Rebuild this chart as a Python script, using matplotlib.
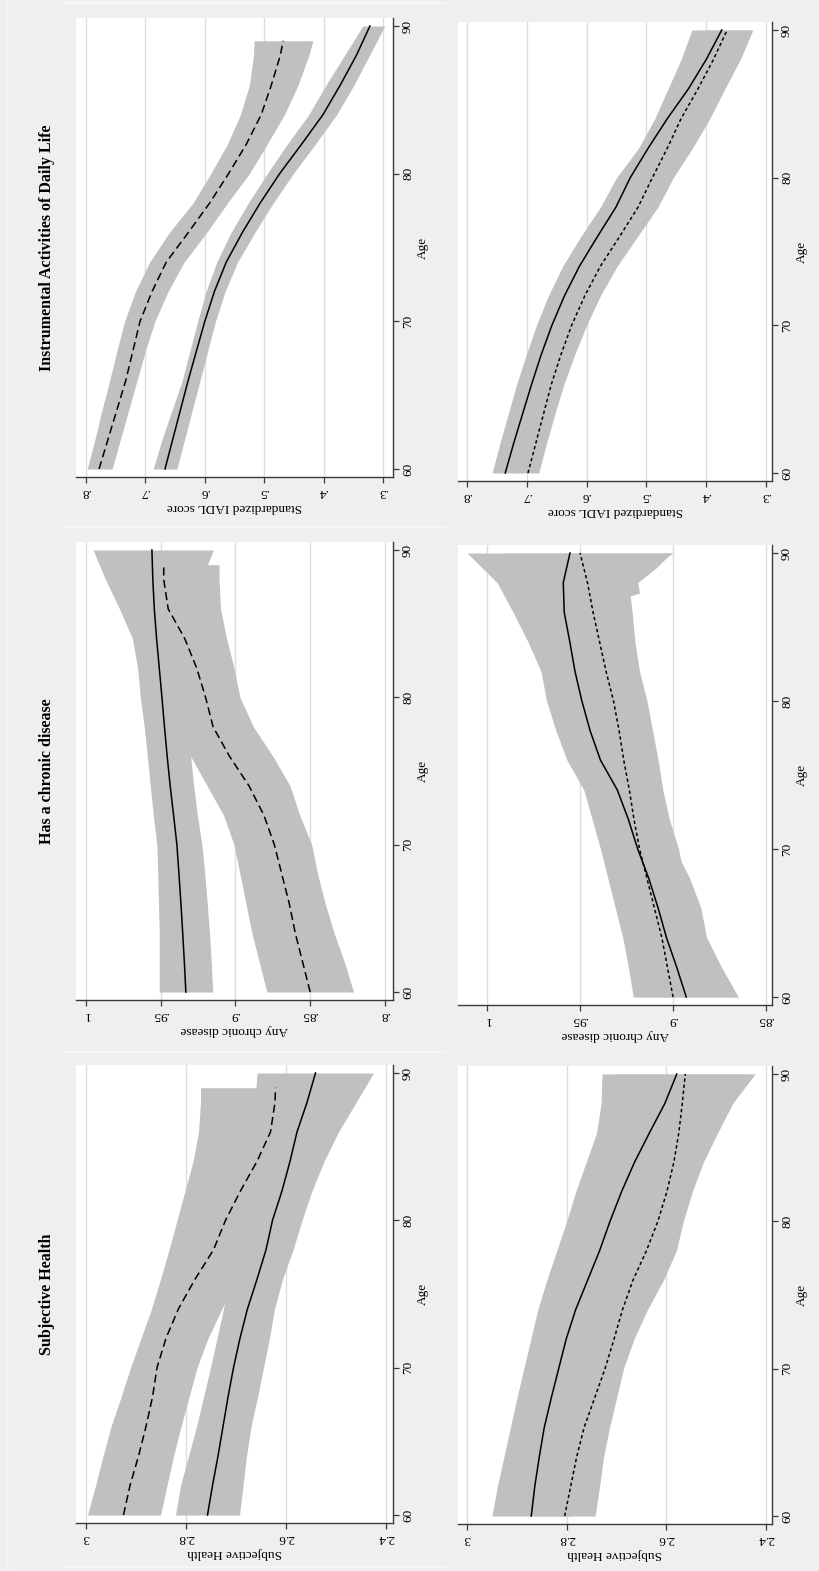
import matplotlib
matplotlib.use("Agg")
import matplotlib.pyplot as plt

plt.rcParams['font.family'] = ['Liberation Serif', 'DejaVu Serif']

# ---------------- data ----------------
ages = [60, 62, 64, 66, 68, 70, 72, 74, 76, 78, 80, 82, 84, 86, 88, 90]
ages89 = [60, 62, 64, 66, 68, 70, 72, 74, 76, 78, 80, 82, 84, 86, 88, 89]
ages_step = [60, 62, 64, 66, 68, 70, 72, 74, 76, 78, 80, 82, 84, 86, 87.1, 87.3, 88, 89, 90]

# Subjective Health, row 1 (solid / dashed)
sh1_solid = [2.757, 2.747, 2.736, 2.726, 2.716, 2.705, 2.692, 2.677, 2.658, 2.640, 2.627, 2.608, 2.592, 2.578, 2.558, 2.541]
sh1_solid_hi = [2.821, 2.811, 2.795, 2.779, 2.765, 2.751, 2.738, 2.725, 2.712, 2.697, 2.690, 2.682, 2.675, 2.668, 2.662, 2.658]
sh1_solid_lo = [2.693, 2.686, 2.679, 2.670, 2.657, 2.645, 2.633, 2.623, 2.607, 2.586, 2.568, 2.548, 2.524, 2.495, 2.460, 2.425]
sh1_dash = [2.925, 2.912, 2.895, 2.880, 2.867, 2.858, 2.840, 2.815, 2.782, 2.745, 2.721, 2.691, 2.658, 2.631, 2.622, 2.621]
sh1_dash_hi = [2.997, 2.981, 2.966, 2.950, 2.930, 2.911, 2.890, 2.869, 2.851, 2.834, 2.818, 2.802, 2.786, 2.775, 2.771, 2.771]
sh1_dash_lo = [2.851, 2.838, 2.825, 2.810, 2.794, 2.778, 2.756, 2.728, 2.698, 2.670, 2.640, 2.605, 2.560, 2.530, 2.505, 2.500]

# Subjective Health, row 2 (solid / dotted)
sh2_solid = [2.871, 2.864, 2.855, 2.845, 2.831, 2.816, 2.801, 2.782, 2.758, 2.734, 2.713, 2.690, 2.664, 2.634, 2.603, 2.579]
sh2_solid_hi = [2.950, 2.939, 2.926, 2.913, 2.900, 2.886, 2.872, 2.858, 2.840, 2.820, 2.800, 2.782, 2.761, 2.740, 2.731, 2.729]
sh2_solid_lo = [2.792, 2.789, 2.784, 2.777, 2.762, 2.746, 2.730, 2.706, 2.676, 2.648, 2.626, 2.598, 2.567, 2.528, 2.475, 2.429]
sh2_dot = [2.804, 2.792, 2.780, 2.765, 2.744, 2.723, 2.705, 2.688, 2.667, 2.640, 2.617, 2.599, 2.585, 2.575, 2.568, 2.562]
sh2_dot_hi = [2.865, 2.850, 2.834, 2.816, 2.788, 2.760, 2.745, 2.738, 2.728, 2.700, 2.668, 2.650, 2.644, 2.653, 2.669, 2.702]
sh2_dot_lo = [2.743, 2.734, 2.726, 2.714, 2.700, 2.686, 2.665, 2.638, 2.606, 2.580, 2.566, 2.548, 2.526, 2.497, 2.467, 2.422]

# Any chronic disease, row 1 (solid / dashed)
ch1_solid = [.9332, .9342, .9353, .9365, .9378, .9392, .9414, .9437, .9457, .9475, .9492, .9510, .9528, .9543, .9553, .9559]
ch1_solid_hi = [.9510, .9510, .9510, .9515, .9520, .9526, .9550, .9570, .9590, .9610, .9637, .9655, .9690, .9776, .9870, .9953]
ch1_solid_lo = [.9152, .9162, .9174, .9189, .9205, .9225, .9255, .9280, .9300, .9340, .9347, .9365, .9366, .9310, .9230, .9147]
ch1_dash = [.850, .855, .860, .864, .869, .874, .881, .891, .904, .915, .920, .926, .934, .945, .948, .948]
ch1_dash_hi = [.879, .884, .889, .893, .897, .901, .908, .919, .930, .940, .945, .950, .958, .970, .982, .985]
ch1_dash_lo = [.821, .827, .834, .840, .845, .849, .857, .8635, .875, .888, .897, .901, .906, .910, .911, .911]

# Any chronic disease, row 2 (solid / dotted)
ch2_solid = [.8929, .8980, .9035, .9080, .9130, .9190, .9240, .9300, .9390, .9446, .9490, .9527, .9555, .9585, .9590, .9554]
ch2_solid_hi = [.9214, .9240, .9270, .9310, .9350, .9390, .9435, .9480, .9570, .9630, .9680, .9710, .9780, .9860, .9946, 1.0107]
ch2_solid_lo = [.8650, .8740, .8820, .8850, .8910, .8990, .9045, .9120, .9210, .9262, .9300, .9344, .9330, .9300, .9234, .9000]
ch2_dot = [.900, .903, .906, .910, .914, .918, .921, .9235, .9265, .929, .932, .936, .9395, .943, .946, .950]
ch2_dot_hi = [.918, .922, .925, .929, .933, .937, .940, .942, .945, .947, .950, .954, .958, .963, .966, .967, .972, .980, .990]
ch2_dot_lo = [.865, .874, .882, .889, .894, .897, .902, .9055, .908, .911, .914, .918, .9205, .922, .923, .918, .919, .909, .901]

# IADL, row 1 (solid / dashed)
ia1_solid = [.667, .654, .641, .628, .614, .600, .584, .564, .537, .507, .474, .437, .401, .372, .345, .322]
ia1_solid_hi = [.687, .672, .655, .638, .625, .612, .598, .580, .556, .527, .495, .461, .425, .396, .365, .334]
ia1_solid_lo = [.647, .634, .621, .608, .595, .582, .566, .545, .516, .485, .451, .414, .378, .349, .323, .297]
ia1_dash = [.778, .763, .748, .733, .721, .709, .689, .665, .628, .592, .560, .530, .505, .488, .473, .468]
ia1_dash_hi = [.798, .785, .773, .760, .748, .735, .717, .693, .660, .620, .590, .562, .540, .525, .518, .517]
ia1_dash_lo = [.756, .742, .728, .714, .700, .684, .662, .635, .597, .562, .525, .495, .466, .443, .425, .418]

# IADL, row 2 (solid / dotted)
ia2_solid = [.736, .722, .707, .692, .676, .658, .637, .612, .582, .551, .527, .497, .465, .430, .400, .374]
ia2_solid_hi = [.758, .745, .731, .717, .701, .684, .664, .640, .610, .577, .550, .513, .486, .464, .442, .424]
ia2_solid_lo = [.714, .699, .683, .667, .651, .632, .610, .584, .554, .525, .504, .481, .444, .396, .358, .324]
ia2_dot = [.698, .685, .672, .659, .643, .625, .603, .577, .545, .514, .490, .465, .442, .414, .388, .365]
ia2_dot_hi = [.716, .703, .691, .680, .666, .650, .629, .605, .575, .547, .525, .507, .484, .459, .433, .408]
ia2_dot_lo = [.680, .667, .653, .638, .620, .600, .577, .549, .515, .481, .455, .423, .394, .369, .343, .322]

age_ticks = [60, 70, 80, 90]
sh_ticks = [3, 2.8, 2.6, 2.4]
sh_labels = ["3", "2.8", "2.6", "2.4"]
ch1_ticks = [1, .95, .9, .85, .8]
ch1_labels = ["1", ".95", ".9", ".85", ".8"]
ch2_ticks = [1, .95, .9, .85]
ch2_labels = ["1", ".95", ".9", ".85"]
ia_ticks = [.8, .7, .6, .5, .4, .3]
ia_labels = [".8", ".7", ".6", ".5", ".4", ".3"]

titles = ["Instrumental Activities of Daily Life", "Has a chronic disease", "Subjective Health"]
ylabels = ["Standardized IADL score", "Any chronic disease", "Subjective Health"]

# ---------------- figure ----------------
W, H = 820, 1571
BG = '#efefef'
BAND = '#c0c0c0'
fig = plt.figure(figsize=(W / 100, H / 100), dpi=100, facecolor=BG)

for yy in [3, 527, 1052, 1567]:
    fig.add_artist(plt.Line2D([63 / W, 445 / W], [1 - yy / H, 1 - yy / H], color='#f8f8f8', lw=1.2))
fig.add_artist(plt.Line2D([7 / W, 7 / W], [0, 1], color='#f6f6f6', lw=1.0))


def make_ax(x0, y0, x1, y1):
    return fig.add_axes([x0 / W, 1 - y1 / H, (x1 - x0) / W, (y1 - y0) / H])


m = 8 / 14.75
# each series: (line ages, line values, band ages, band low, band high, style)
panels = [
    ((76, 18, 393, 477), (.8168, .2832), ia_ticks, ia_labels, ylabels[0], titles[0],
     [(ages, ia1_solid, ages, ia1_solid_lo, ia1_solid_hi, '-'),
      (ages89, ia1_dash, ages89, ia1_dash_lo, ia1_dash_hi, 'dash')]),
    ((76, 542, 393, 1000), (1.0067, .7946), ch1_ticks, ch1_labels, ylabels[1], titles[1],
     [(ages, ch1_solid, ages, ch1_solid_lo, ch1_solid_hi, '-'),
      (ages89, ch1_dash, ages89, ch1_dash_lo, ch1_dash_hi, 'dash')]),
    ((76, 1065, 393, 1523), (3.02, 2.386), sh_ticks, sh_labels, ylabels[2], titles[2],
     [(ages, sh1_solid, ages, sh1_solid_lo, sh1_solid_hi, '-'),
      (ages89, sh1_dash, ages89, sh1_dash_lo, sh1_dash_hi, 'dash')]),
    ((458, 22, 772, 481), (.815, .290), ia_ticks, ia_labels, ylabels[0], None,
     [(ages, ia2_solid, ages, ia2_solid_lo, ia2_solid_hi, '-'),
      (ages, ia2_dot, ages, ia2_dot_lo, ia2_dot_hi, 'dot')]),
    ((458, 545, 772, 1005), (1.0156, .8468), ch2_ticks, ch2_labels, ylabels[1], None,
     [(ages, ch2_solid, ages, ch2_solid_lo, ch2_solid_hi, '-'),
      (ages, ch2_dot, ages_step, ch2_dot_lo, ch2_dot_hi, 'dot')]),
    ((458, 1066, 772, 1524), (3.018, 2.388), sh_ticks, sh_labels, ylabels[2], None,
     [(ages, sh2_solid, ages, sh2_solid_lo, sh2_solid_hi, '-'),
      (ages, sh2_dot, ages, sh2_dot_lo, sh2_dot_hi, 'dot')]),
]

styles = {'-': '-', 'dash': (0, (5.3, 2.8)), 'dot': (0, (2.2, 1.8))}
AX = '#3a3a3a'
FS = 9.5

for rect, xlim, ticks, labels, ylab, title, series in panels:
    x0, y0, x1, y1 = rect
    ax = make_ax(*rect)
    ax.set_facecolor('white')
    for la, mid, ba, lo, hi, ls in series:
        ax.fill_betweenx(ba, lo, hi, color=BAND, lw=0, zorder=2)
    for la, mid, ba, lo, hi, ls in series:
        ax.plot(mid, la, color='black', lw=1.1, ls=styles[ls], zorder=3)
    ax.set_xlim(*xlim)
    ax.set_ylim(60 - m, 90 + m)
    ax.set_xticks(ticks)
    ax.set_xticklabels(labels, rotation=180)
    ax.set_yticks(age_ticks)
    ax.set_yticklabels([str(t) for t in age_ticks], rotation=90, va='center')
    ax.yaxis.tick_right()
    ax.xaxis.grid(True, color='#dddddd', lw=1.0, zorder=1)
    ax.set_axisbelow(True)
    for s in ['left', 'top']:
        ax.spines[s].set_visible(False)
    for s in ['right', 'bottom']:
        ax.spines[s].set_color(AX)
        ax.spines[s].set_linewidth(1.0)
    ax.tick_params(axis='both', direction='out', length=4.5, width=0.9, color=AX,
                   labelsize=FS, labelcolor='black', pad=2)
    cx = (x0 + x1) / 2
    cy = (y0 + y1) / 2
    fig.text(cx / W, 1 - (y1 + 30) / H, ylab, rotation=180, ha='center', va='center', fontsize=FS)
    fig.text((x1 + 30) / W, 1 - cy / H, "Age", rotation=90, ha='center', va='center', fontsize=FS)
    if title:
        fig.text(47 / W, 1 - cy / H, title, rotation=90, ha='center', va='center',
                 fontsize=11.5, fontweight='bold')

fig.savefig("out.png", dpi=100, facecolor=BG)
